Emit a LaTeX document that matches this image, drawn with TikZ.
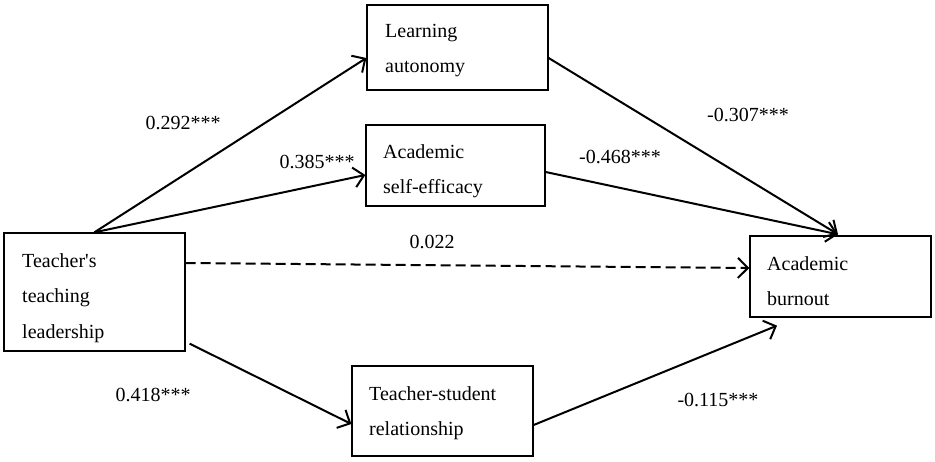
\documentclass[tikz,border=0pt]{standalone}
\usepackage{fontspec}
\setmainfont{Liberation Serif}
\usetikzlibrary{arrows.meta,calc}
\begin{document}
\begin{tikzpicture}[x=1pt,y=-1pt,
  box/.style={draw,line width=1.3pt,inner sep=0pt},
  txt/.style={anchor=base west,inner sep=0pt,text width=170pt,align=left,font=\fontsize{20pt}{35.5pt}\selectfont},
  lab/.style={inner sep=0pt,font=\fontsize{20pt}{24pt}\selectfont},
  arr/.style={line width=2pt,-{Straight Barb[length=10pt,width=20pt,line width=2pt]}},
  darr/.style={arr,dash pattern=on 10pt off 5pt}]
\useasboundingbox (0,0) rectangle (935,461);
\node[box,minimum width=181pt,minimum height=118pt] (tl) at (94.5,292) {};
\node[box,minimum width=181pt,minimum height=85pt] (la) at (457.5,47.5) {};
\node[box,minimum width=179pt,minimum height=81pt] (se) at (455.5,165.5) {};
\node[box,minimum width=181pt,minimum height=81pt] (ab) at (840.5,276.5) {};
\node[box,minimum width=181pt,minimum height=90pt] (ts) at (442.5,411) {};
\node[txt] (tlt) at (22,267) {Teacher\textquotesingle s\\teaching\\leadership};
\node[txt] (lat) at (385,37) {Learning\\autonomy};
\node[txt] (set) at (383,158) {Academic\\self-efficacy};
\node[txt] (abt) at (767,270) {Academic\\burnout};
\node[txt] (tst) at (369,400) {Teacher-student\\relationship};
\draw[arr] ($(tl.north west)+(91,0)$) -- ($(la.west)+(0,10.5)$);
\draw[arr] ($(tl.north west)+(91,0)$) -- ($(se.west)+(0,9.5)$);
\draw[darr] ($(tl.east)+(0,-29)$) -- ($(ab.west)+(0,-8.5)$);
\draw[arr] ($(la.east)+(0,10.5)$) -- ($(ab.north)+(-2.5,-1)$);
\draw[arr] ($(se.east)+(0,6.5)$) -- ($(ab.north)+(-2.5,-1)$);
\draw[arr] ($(tl.south east)+(4,-8)$) -- ($(ts.west)+(0,13)$);
\draw[arr] ($(ts.east)+(0,14)$) -- ($(ab.south)+(-63.5,8)$);
\node[lab] (l1) at (183,123) {0.292***};
\node[lab] (l2) at (317,162) {0.385***};
\node[lab] (l3) at (432,242) {0.022};
\node[lab] (l4) at (748,115) {-0.307***};
\node[lab] (l5) at (620,157) {-0.468***};
\node[lab] (l6) at (153,395) {0.418***};
\node[lab] (l7) at (718,400) {-0.115***};
\end{tikzpicture}
\end{document}
